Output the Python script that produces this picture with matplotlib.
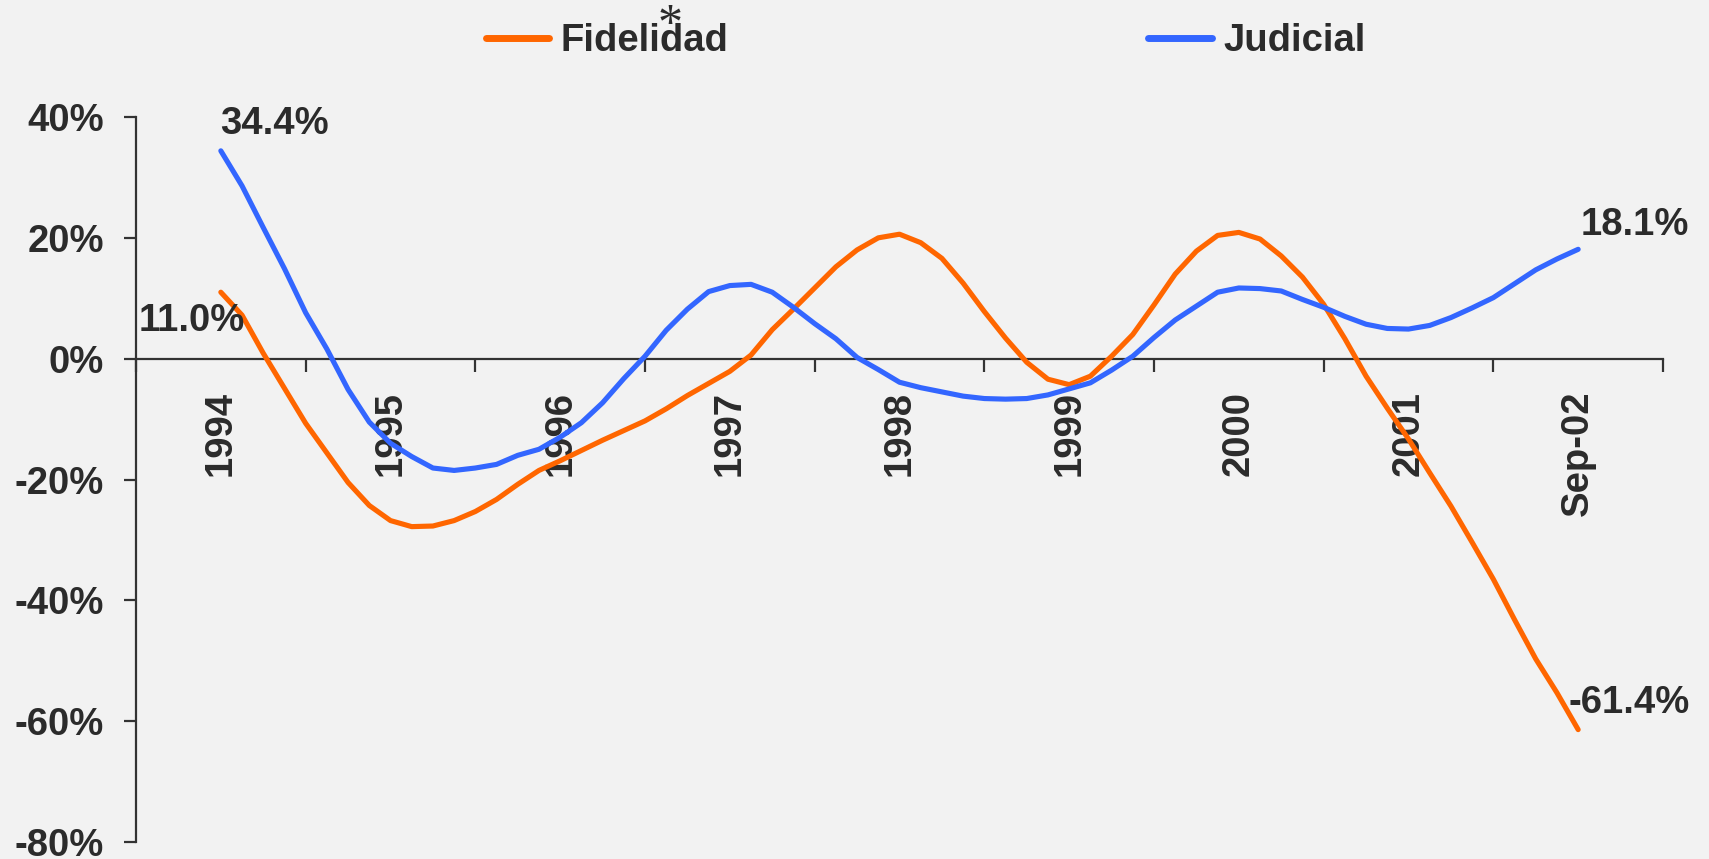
import numpy as np
import matplotlib.pyplot as plt
from matplotlib.lines import Line2D

# year labels on the category axis (one label per year, last one is Sep-02)
years = ["1994", "1995", "1996", "1997", "1998", "1999", "2000", "2001", "Sep-02"]

# values, 8 readings per year (in %)
fidelidad = [
    11.0, 7.2, 0.9, -4.9, -10.7, -15.6, -20.5, -24.3,
    -26.8, -27.8, -27.7, -26.8, -25.3, -23.3, -20.8, -18.5,
    -16.9, -15.2, -13.5, -11.9, -10.3, -8.3, -6.1, -4.1,
    -2.1, 0.6, 4.8, 8.2, 11.7, 15.2, 18.0, 20.0,
    20.6, 19.2, 16.6, 12.5, 7.8, 3.4, -0.6, -3.4,
    -4.3, -2.9, 0.4, 4.0, 8.9, 14.0, 17.8, 20.4,
    20.9, 19.8, 17.0, 13.5, 9.0, 3.3, -2.9, -8.2,
    -13.3, -18.9, -24.4, -30.4, -36.5, -43.2, -49.7, -55.3,
    -61.4,
]
judicial = [
    34.4, 28.6, 21.7, 14.9, 7.6, 1.6, -5.1, -10.5,
    -14.0, -16.2, -18.1, -18.5, -18.1, -17.5, -16.0, -15.0,
    -13.0, -10.6, -7.3, -3.3, 0.4, 4.7, 8.2, 11.1,
    12.1, 12.3, 11.0, 8.5, 5.8, 3.3, 0.2, -1.8,
    -3.9, -4.8, -5.5, -6.2, -6.6, -6.7, -6.6, -6.0,
    -5.0, -4.0, -1.9, 0.4, 3.5, 6.4, 8.7, 11.0,
    11.7, 11.6, 11.2, 9.8, 8.5, 7.0, 5.7, 5.0,
    4.9, 5.5, 6.8, 8.4, 10.1, 12.4, 14.7, 16.5,
    18.1,
]

ORANGE = "#ff6600"
BLUE = "#3366ff"
TEXT = "#2b2b2b"
BG = "#f2f2f2"
FS = 27.5

plt.rcParams["font.family"] = ["Liberation Sans", "DejaVu Sans"]

W, H = 1709, 859
fig = plt.figure(figsize=(W / 100, H / 100), dpi=100, facecolor=BG)
ax = fig.add_axes([136 / W, 17 / H, 1527 / W, 725 / H])
ax.set_facecolor(BG)

x = np.arange(len(fidelidad)) / 8
ax.plot(x, fidelidad, color=ORANGE, lw=3.7, solid_capstyle="round", zorder=3)
ax.plot(x, judicial, color=BLUE, lw=3.7, solid_capstyle="round", zorder=3)

ax.set_xlim(-0.5, len(years) - 0.5)
ax.set_ylim(-80, 40)

for s in ["top", "right"]:
    ax.spines[s].set_visible(False)
ax.spines["bottom"].set_position(("data", 0))
for s in ["left", "bottom"]:
    ax.spines[s].set_color("#333333")
    ax.spines[s].set_linewidth(1.6)

# x: tick marks between years, labels in the middle
ax.set_xticks(np.arange(-0.5, len(years), 1))
ax.set_xticklabels([])
ax.set_xticks(np.arange(len(years)), minor=True)
ax.set_xticklabels(years, minor=True, rotation=90, fontsize=FS,
                   fontweight="bold", color=TEXT)
ax.tick_params(axis="x", which="major", direction="out", length=9,
               width=1.6, color="#333333")
ax.tick_params(axis="x", which="minor", length=0, pad=23)

yt = np.arange(-80, 41, 20)
ax.set_yticks(yt)
ax.set_yticklabels([f"{v}%" for v in yt], fontsize=FS, fontweight="bold",
                   color=TEXT)
ax.tick_params(axis="y", direction="out", length=9, width=1.6,
               color="#333333", pad=14)

# end labels
def lab(xv, yv, dx, dy, ha):
    ax.annotate(f"{yv:.1f}%", xy=(xv, yv), xytext=(dx, dy),
                textcoords="offset points", ha=ha, va="baseline",
                fontsize=FS, fontweight="bold", color=TEXT, zorder=4)

lab(x[0], judicial[0], -0.5, 12, "left")
lab(x[0], fidelidad[0], 17, -28, "right")
lab(x[-1], judicial[-1], 1.5, 10, "left")
lab(x[-1], fidelidad[-1], -7, 12, "left")

handles = [Line2D([], [], color=ORANGE, lw=5, solid_capstyle="round"),
           Line2D([], [], color=BLUE, lw=5, solid_capstyle="round")]
fig.legend(handles, ["Fidelidad", "Judicial"], loc="center left",
           bbox_to_anchor=(486 / W, 1 - 41 / H), ncol=2, frameon=False,
           borderpad=0, borderaxespad=0,
           handlelength=1.65, handletextpad=0.3, columnspacing=11.0,
           prop={"weight": "bold", "size": FS}, labelcolor=TEXT)
fig.text(670 / W, 1 - 26 / H, "*", ha="center", va="center", fontsize=36,
         family="Liberation Serif", color=TEXT)

fig.savefig("out.png", dpi=100, facecolor=BG)
